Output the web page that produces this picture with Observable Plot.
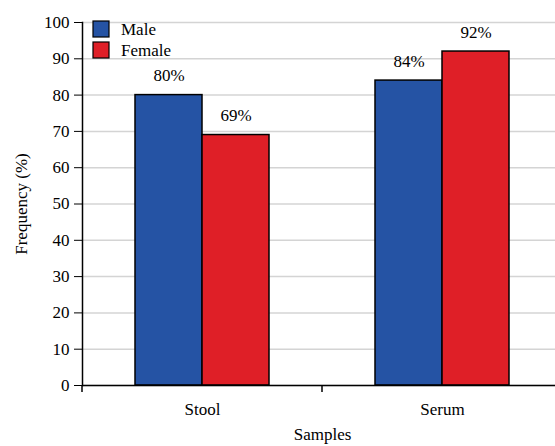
<!DOCTYPE html>
<html><head><meta charset="utf-8">
<script src="https://cdn.jsdelivr.net/npm/d3@7"></script>
<script src="https://cdn.jsdelivr.net/npm/@observablehq/plot@0.6"></script>
<style>
body{margin:0;background:#fff;overflow:hidden}
svg{display:block}
#chart svg, #chart svg text{font-family:'Liberation Serif','Times New Roman',serif !important;}
</style>
</head><body><div id="chart"></div>
<script>
const samples = ["Stool", "Serum"];
const sexes = ["Male", "Female"];
const maleValues = [80, 84];
const femaleValues = [69, 92];
const colors = ["#2553a4", "#df1f27"];
const yTicks = [0, 10, 20, 30, 40, 50, 60, 70, 80, 90, 100];

const data = samples.flatMap((s, i) => [
  {sample: s, sex: "Male", value: maleValues[i]},
  {sample: s, sex: "Female", value: femaleValues[i]}
]);

const font = "'Liberation Serif', 'Times New Roman', serif";
const fs = 17;

const plot = Plot.plot({
  width: 555, height: 446,
  marginLeft: 82, marginRight: 0, marginTop: 22, marginBottom: 61,
  style: {fontFamily: font, fontSize: fs + "px", color: "#000", background: "#fff"},
  fx: {domain: samples, range: [82, 562], padding: 0, label: "Samples"},
  x: {domain: sexes, paddingInner: 0, paddingOuter: 0.778, axis: null},
  y: {domain: [0, 100]},
  color: {domain: sexes, range: colors},
  marks: [
    Plot.gridY(yTicks, {stroke: "#d4d4d4", strokeOpacity: 1, strokeWidth: 1.5}),
    Plot.barY(data, {fx: "sample", x: "sex", y: "value", fill: "sex", stroke: "#000", strokeWidth: 1.5}),
    Plot.text(data, {fx: "sample", x: "sex", y: "value", text: d => d.value + "%", lineAnchor: "bottom", dy: -14, fontSize: fs, fontFamily: font}),
    Plot.ruleY([0], {stroke: "#000", strokeWidth: 1.5}),
    Plot.frame({anchor: "left", facetAnchor: "left", stroke: "#000", strokeWidth: 1.5}),
    Plot.axisY({ticks: yTicks, tickSize: 8, tickPadding: 5, label: "Frequency (%)", labelAnchor: "center", labelArrow: "none", labelOffset: 68, fontSize: fs, fontFamily: font}),
    Plot.axisFx({anchor: "bottom", tickSize: 0, tickPadding: 17, label: "Samples", labelAnchor: "center", labelArrow: "none", labelOffset: 54, fontSize: fs, fontFamily: font})
  ]
});

document.getElementById("chart").append(plot);

// between-category ticks and in-plot legend, using the plot's own scales
const svg = d3.select(plot);
const fx = plot.scale("fx");
const y = plot.scale("y");
const color = plot.scale("color");
const y0 = y.apply(0);
samples.forEach(s => {
  const xs = fx.apply(s);
  svg.append("line").attr("x1", xs).attr("x2", xs).attr("y1", y0).attr("y2", y0 + 7)
    .attr("stroke", "#000").attr("stroke-width", 1.5);
});

const lg = svg.append("g").attr("font-family", font).attr("font-size", fs).attr("text-anchor", "start");
sexes.forEach((s, i) => {
  const top = y.apply(100) - 1 + i * 21;
  lg.append("rect").attr("x", 93).attr("y", top).attr("width", 16).attr("height", 16)
    .attr("fill", color.apply(s)).attr("stroke", "#000").attr("stroke-width", 1.2);
  lg.append("text").attr("x", 121).attr("y", top + 14).attr("text-anchor", "start").text(s);
});
</script>
</body></html>
